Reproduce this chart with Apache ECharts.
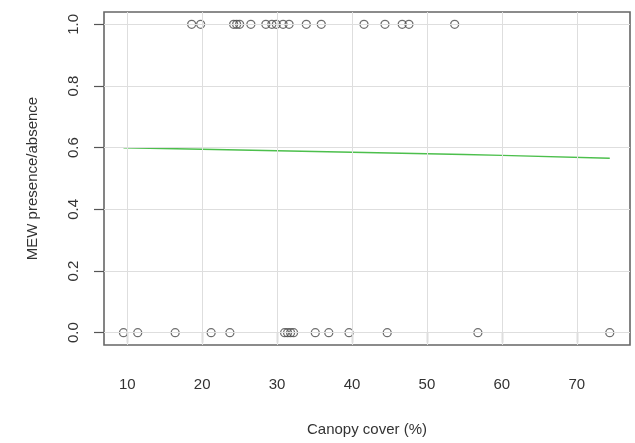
<!DOCTYPE html>
<html>
<head>
<meta charset="utf-8">
<script src="https://cdn.jsdelivr.net/npm/echarts@6/dist/echarts.min.js"></script>
<style>html,body{margin:0;padding:0;background:#fff}#c{width:635px;height:443px}</style>
</head>
<body>
<div id="c"></div>
<script>
// Canopy cover (%) at sites where MEW was present (1) and absent (0)
var presentCover = [18.6, 19.8, 24.2, 24.6, 25.0, 26.5, 28.5, 29.3, 29.9, 30.8, 31.6, 33.9, 35.9, 41.6, 44.4, 46.7, 47.6, 53.7];
var absentCover = [9.5, 11.4, 16.4, 21.2, 23.7, 31.0, 31.4, 31.8, 32.2, 35.1, 36.9, 39.6, 44.7, 56.8, 74.4];
// fitted probability curve
var fitX = [9.5, 20, 30, 40, 50, 60, 74.4];
var fitY = [0.600, 0.595, 0.590, 0.585, 0.580, 0.575, 0.566];
var xTicks = [10, 20, 30, 40, 50, 60, 70];
var yTicks = [0.0, 0.2, 0.4, 0.6, 0.8, 1.0];

var pts = presentCover.map(function (v) { return [v, 1]; })
  .concat(absentCover.map(function (v) { return [v, 0]; }));
var fit = fitX.map(function (v, i) { return [v, fitY[i]]; });

var font = 'Liberation Sans, Arial, sans-serif';
var chart = echarts.init(document.getElementById('c'), null, { renderer: 'canvas' });
chart.setOption({
  animation: false,
  backgroundColor: '#ffffff',
  grid: { left: 104, top: 12, width: 526, height: 333, show: true, borderColor: '#666666', borderWidth: 1.6, backgroundColor: 'transparent' },
  xAxis: {
    type: 'value', min: 6.9, max: 77.1,
    name: 'Canopy cover (%)', nameLocation: 'middle', nameGap: 77,
    nameTextStyle: { fontFamily: font, fontSize: 15, color: '#333' },
    axisLine: { show: false },
    axisTick: { show: true, length: 10, customValues: xTicks, lineStyle: { color: '#555', width: 1.2 } },
    axisLabel: { customValues: xTicks, margin: 32, fontFamily: font, fontSize: 15, color: '#333' },
    splitLine: { show: false }
  },
  yAxis: {
    type: 'value', min: -0.04, max: 1.04,
    name: 'MEW presence/absence', nameLocation: 'middle', nameGap: 64, nameRotate: 90,
    nameTextStyle: { fontFamily: font, fontSize: 15, color: '#333' },
    axisLine: { show: false },
    axisTick: { show: true, length: 10, customValues: yTicks, lineStyle: { color: '#555', width: 1.2 } },
    axisLabel: { customValues: yTicks, rotate: 90, margin: 23, fontFamily: font, fontSize: 15, color: '#333',
      formatter: function (v) { return v.toFixed(1); } },
    splitLine: { show: false }
  },
  series: [
    {
      type: 'line', data: [], silent: true,
      markLine: {
        silent: true, symbol: ['none', 'none'], label: { show: false },
        lineStyle: { color: '#dedede', width: 1, type: 'solid' },
        data: xTicks.map(function (t) { return { xAxis: t }; })
          .concat(yTicks.map(function (t) { return { yAxis: t }; }))
      }
    },
    {
      type: 'scatter', data: pts, symbol: 'circle', symbolSize: 8,
      itemStyle: { color: 'rgba(255,255,255,0)', borderColor: '#4a4a4a', borderWidth: 1.3 }
    },
    {
      type: 'line', data: fit, showSymbol: false, smooth: true,
      lineStyle: { color: '#4cbf4c', width: 1.5 }
    }
  ]
});
</script>
</body>
</html>
